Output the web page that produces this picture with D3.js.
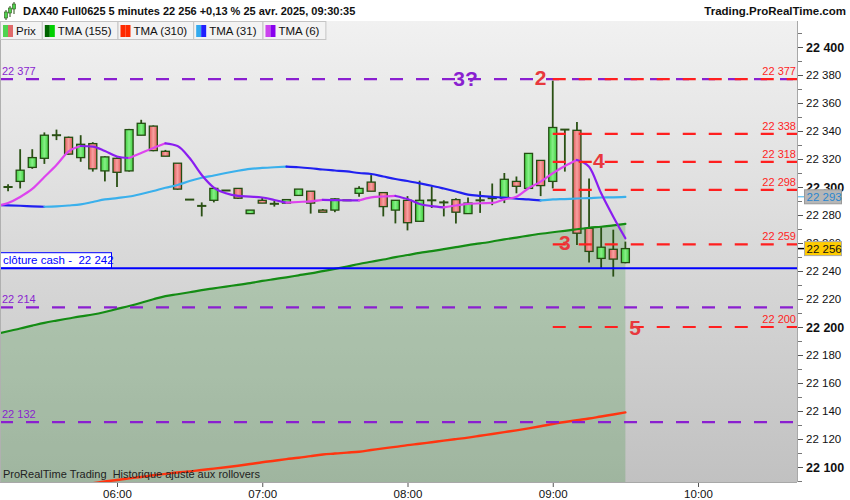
<!DOCTYPE html>
<html><head><meta charset="utf-8">
<script src="https://cdn.jsdelivr.net/npm/d3@7"></script>
<style>body{margin:0;background:#fff}svg{display:block;font-family:"Liberation Sans",Arial,sans-serif}</style>
</head><body><svg id="c" width="850" height="500"></svg>
<script>
// ---------- DATA ----------
const candleTimes = ["05:15","05:20","05:25","05:30","05:35","05:40","05:45","05:50","05:55",
 "06:00","06:05","06:10","06:15","06:20","06:25","06:30","06:35","06:40","06:45","06:50","06:55",
 "07:00","07:05","07:10","07:15","07:20","07:25","07:30","07:35","07:40","07:45","07:50","07:55",
 "08:00","08:05","08:10","08:15","08:20","08:25","08:30","08:35","08:40","08:45","08:50","08:55",
 "09:00","09:05","09:10","09:15","09:20","09:25","09:30"];
const openP  = [22300,22304,22314,22320.5,22337,22335.5,22321,22331,22311.5,22320.5,22311.5,22337,22343.5,22325.5,22317,22291,22286.5,22290.5,22297.5,22299,22281,22290.5,22288,22288.5,22294,22297,22283.5,22283.5,22290.5,22295.5,22303.5,22296,22283.5,22290.5,22275.5,22290.5,22289,22291,22281,22290.5,22292,22292,22304,22299,22319,22304,22341,22340.5,22270.5,22249,22255.5,22246];
const highP  = [22302,22327,22327,22339,22341,22336,22337,22332,22322,22321,22341.5,22348,22344,22326.5,22317,22291,22289,22299,22297.5,22299,22283.5,22292.5,22290,22291,22298.5,22297,22284.3,22292,22290.5,22300.5,22308.5,22296,22290.5,22293.5,22304.5,22300.5,22290.5,22292,22292.5,22297,22302.5,22310,22307.5,22324,22319,22376,22341,22346.5,22306,22271.5,22269.5,22261];
const lowP   = [22297,22299,22313,22316.5,22333.5,22323,22318,22311,22304,22300,22311,22337,22325.5,22322,22298,22291,22279,22289,22297.5,22291.5,22281,22288.5,22286,22288,22294,22281,22282,22282,22290.5,22293,22297,22279,22274,22269,22275.5,22285,22279,22274,22281,22281.5,22287,22288.5,22295.5,22299,22293.5,22299,22311,22258.5,22246,22242,22236,22245.5];
const closeP = [22300,22312,22321,22337,22337,22323.5,22330.5,22313,22321.5,22310.5,22341,22345.5,22326,22322,22298.5,22291,22286.5,22299,22297.5,22292,22283.5,22288.5,22288,22291,22298.5,22288.5,22282,22291.5,22290.5,22299,22297,22286,22290.5,22274.5,22290.5,22290.5,22289,22282,22288.5,22290.5,22292,22305.5,22300.5,22324,22301,22342.5,22341,22267,22254,22257,22248.5,22256];

const lineTimes = ["05:10"].concat(candleTimes);
const tma155 = [22195.0,22197.0,22198.9,22201.0,22203.0,22204.6,22206.1,22207.6,22208.9,22210.7,22212.9,22215.0,22217.3,22219.8,22222.1,22223.4,22224.8,22226.3,22227.6,22228.9,22230.1,22231.4,22232.9,22234.2,22235.5,22236.9,22238.3,22239.9,22241.5,22243.2,22245.0,22246.6,22248.2,22249.9,22251.4,22252.9,22254.2,22255.6,22257.0,22258.5,22259.7,22261.1,22262.6,22263.9,22265.3,22266.6,22267.7,22268.7,22269.8,22270.9,22271.6,22272.6,22273.6];
const tma310 = [22079.2,22080.3,22081.4,22082.6,22083.7,22084.9,22086.0,22087.1,22088.4,22089.6,22090.7,22091.9,22092.9,22094.1,22095.1,22096.1,22096.9,22097.9,22098.8,22099.8,22100.9,22102.1,22103.4,22104.5,22105.6,22106.6,22107.8,22108.9,22109.6,22110.3,22110.9,22112.1,22113.3,22114.4,22115.6,22116.6,22117.7,22118.8,22119.9,22121.0,22122.3,22123.6,22124.9,22126.2,22127.6,22129.1,22130.7,22132.1,22133.4,22134.6,22136.1,22137.5,22139.0];
const tma31 = [22287.1,22286.9,22286.6,22286.2,22285.9,22286.2,22286.8,22287.6,22289.3,22291.1,22292.1,22293.2,22295.0,22297.1,22299.5,22301.4,22304.3,22306.6,22308.2,22310.0,22311.6,22312.9,22313.6,22314.1,22314.5,22314.1,22313.4,22312.5,22311.8,22311.1,22310.0,22309.3,22307.5,22305.7,22304.3,22302.6,22300.9,22298.9,22296.8,22294.6,22293.6,22292.9,22292.4,22291.6,22291.1,22290.4,22291.1,22291.4,22291.8,22292.1,22292.5,22292.6,22292.9];
const tma6 = [22286.4,22288.6,22292.9,22298.6,22307.1,22315.7,22325.4,22329.3,22328.9,22325.7,22321.8,22320.7,22324.3,22327.9,22331.2,22329.3,22320.7,22308.6,22299.6,22295.5,22293.6,22293.1,22292.5,22290.7,22288.8,22289.3,22289.8,22290.8,22290.6,22290.5,22290.4,22292.6,22293.2,22293.6,22291.4,22287.9,22286.4,22285.5,22286.8,22287.9,22288.4,22288.6,22291.2,22293.1,22299.1,22303.8,22309.8,22315.0,22319.3,22314.5,22295.5,22278.8,22263.4];

const purpleLevels = [22377, 22214, 22132];
const redLevels = [22377, 22338, 22318, 22298, 22259, 22200];
const redLevelsStart = "09:00";
const cashClose = 22242;
const waveLabels = [
  {text:"3?", time:"08:24", price:22377.5, kind:"purple"},
  {text:"2",  time:"08:55", price:22378, kind:"red"},
  {text:"4",  time:"09:19", price:22319, kind:"red"},
  {text:"3",  time:"09:05", price:22260.5, kind:"red"},
  {text:"5",  time:"09:34", price:22199.5, kind:"red"}
];
const xTicks = ["06:00","07:00","08:00","09:00","10:00"];
const yLabelTicks = [22100,22120,22140,22160,22180,22200,22220,22240,22260,22280,22300,22320,22340,22360,22380,22400];
const yMinorTicks = [22090,22110,22130,22150,22170,22190,22210,22230,22250,22270,22290,22310,22330,22350,22370,22390,22410];
const lastTma31 = 22293, lastPrice = 22256;
const legendItems = [
  {label:"Prix", c:["#4fd34f","#e06a6a"]},
  {label:"TMA (155)", c:["#006400","#00d000"]},
  {label:"TMA (310)", c:["#ff2a00","#ff2a00"]},
  {label:"TMA (31)", c:["#33aaee","#2020ff"]},
  {label:"TMA (6)", c:["#cc44ee","#8800ee"]}
];
const title = "DAX40 Full0625 5 minutes 22 256 +0,13 % 25 avr. 2025, 09:30:35";
const site = "Trading.ProRealTime.com";
const footer = "ProRealTime Trading  Historique ajusté aux rollovers";

// ---------- LAYOUT ----------
const PL=0, PR=797, PT=21, PB=482;
const toMin = s => { const [h,m]=s.split(":").map(Number); return h*60+m; };
const x = d3.scaleLinear().domain([toMin("06:00"), toMin("10:00")]).range([117, 698]);
const y = d3.scaleLinear().domain([22100, 22400]).range([467, 47]);
const fmt = v => d3.format(",")(v).replace(/,/g," ");
const PURPLE="#8a1fd0", RED="#ff1f1f";

const svg = d3.select("#c");
const defs = svg.append("defs");
const bg = defs.append("linearGradient").attr("id","bg").attr("x1",0).attr("y1",0).attr("x2",0).attr("y2",1);
bg.append("stop").attr("offset","0%").attr("stop-color","#f1f1f1");
bg.append("stop").attr("offset","100%").attr("stop-color","#c1c1c1");
function hgrad(id, edge, mid){
  const g = defs.append("linearGradient").attr("id",id).attr("x1",0).attr("y1",0).attr("x2",1).attr("y2",0);
  g.append("stop").attr("offset","0%").attr("stop-color",edge);
  g.append("stop").attr("offset","50%").attr("stop-color",mid);
  g.append("stop").attr("offset","100%").attr("stop-color",edge);
}
hgrad("gUp","#3fcf3f","#86f086");
hgrad("gDn","#e25c5c","#f7a0a0");
defs.append("clipPath").attr("id","clip").append("rect").attr("x",PL).attr("y",PT).attr("width",PR-PL).attr("height",PB-PT);

svg.append("rect").attr("width",850).attr("height",500).attr("fill","#fff");
svg.append("rect").attr("x",PL).attr("y",PT).attr("width",PR-PL).attr("height",PB-PT).attr("fill","url(#bg)");

const plot = svg.append("g").attr("clip-path","url(#clip)");
const lineData = lineTimes.map((t,i)=>({t:toMin(t), i}));

// TMA155 area fill
plot.append("path").datum(lineData)
  .attr("d", d3.area().x(d=>x(d.t)).y0(PB).y1(d=>y(tma155[d.i])))
  .attr("fill","rgb(70,150,70)").attr("fill-opacity",0.27);

// candles
const cg = plot.append("g");
candleTimes.forEach((t,i)=>{
  const cx = x(toMin(t));
  const o=openP[i], c=closeP[i], h=highP[i], l=lowP[i];
  cg.append("line").attr("x1",cx).attr("x2",cx).attr("y1",y(h)).attr("y2",y(l))
    .attr("stroke","#2a5014").attr("stroke-width",1.8);
  if (o===c) {
    cg.append("line").attr("x1",cx-4.6).attr("x2",cx+4.6).attr("y1",y(o)).attr("y2",y(o))
      .attr("stroke","#2a5014").attr("stroke-width",2);
  } else {
    const top=y(Math.max(o,c)), bot=y(Math.min(o,c));
    cg.append("rect").attr("x",cx-4).attr("y",top).attr("width",8).attr("height",Math.max(1,bot-top))
      .attr("fill", c>o ? "url(#gUp)" : "url(#gDn)").attr("stroke","#244d12").attr("stroke-width",1.3);
  }
});

// lines with up/down colours
function colouredLine(vals, upC, dnC, w){
  let run=[0], dir=null;
  const runs=[];
  for(let i=1;i<vals.length;i++){
    const d = vals[i]>=vals[i-1] ? "up":"dn";
    if(dir===null) dir=d;
    if(d!==dir){ runs.push({dir, idx:run}); run=[i-1]; dir=d; }
    run.push(i);
  }
  runs.push({dir, idx:run});
  const ln = d3.line().x(i=>x(lineData[i].t)).y(i=>y(vals[i])).curve(d3.curveMonotoneX);
  runs.forEach(r=>{
    plot.append("path").attr("d", ln(r.idx)).attr("fill","none")
      .attr("stroke", r.dir==="up"?upC:dnC).attr("stroke-width",w).attr("stroke-linecap","round");
  });
}
colouredLine(tma310, "#ff3510", "#ff3510", 2.4);
colouredLine(tma155, "#148c14", "#00c800", 2.2);
colouredLine(tma31, "#3ab0ec", "#2020f0", 2.2);
colouredLine(tma6, "#dd44ee", "#8a1ef0", 2.2);

// horizontal levels
purpleLevels.forEach(v=>{
  plot.append("line").attr("x1",PL).attr("x2",PR).attr("y1",y(v)).attr("y2",y(v))
    .attr("stroke",PURPLE).attr("stroke-width",2.2).attr("stroke-dasharray","13,13");
  plot.append("text").attr("x",2).attr("y",y(v)-4).attr("font-size",11).attr("fill",PURPLE).text(fmt(v));
});
const rx0 = x(toMin(redLevelsStart));
redLevels.forEach(v=>{
  plot.append("line").attr("x1",rx0).attr("x2",PR).attr("y1",y(v)).attr("y2",y(v))
    .attr("stroke",RED).attr("stroke-width",2.2).attr("stroke-dasharray","13,13");
  plot.append("text").attr("x",PR-1).attr("y",y(v)-4).attr("font-size",11).attr("fill",RED)
    .attr("text-anchor","end").text(fmt(v));
});

// cash close
plot.append("line").attr("x1",PL).attr("x2",PR).attr("y1",y(cashClose)).attr("y2",y(cashClose))
  .attr("stroke","#0000ff").attr("stroke-width",2);
plot.append("rect").attr("x",0.5).attr("y",y(cashClose)-15.5).attr("width",111).attr("height",15)
  .attr("fill","#fff").attr("stroke","#0000ff").attr("stroke-width",1);
plot.append("text").attr("x",3).attr("y",y(cashClose)-4).attr("font-size",11.5).attr("fill","#0000ff")
  .style("white-space","pre").text("clôture cash -  " + fmt(cashClose));

// wave labels
waveLabels.forEach(w=>{
  plot.append("text").attr("x",x(toMin(w.time))).attr("y",y(w.price)).attr("dy","0.36em")
    .attr("text-anchor","middle").attr("font-size",21).attr("font-weight","bold")
    .attr("fill", w.kind==="red" ? "#e8383d" : PURPLE).text(w.text);
});

// footer
plot.append("text").attr("x",3).attr("y",478).attr("font-size",11).attr("fill","#222")
  .style("white-space","pre").text(footer);

// borders
svg.append("line").attr("x1",PR+0.5).attr("x2",PR+0.5).attr("y1",PT).attr("y2",PB).attr("stroke","#a8a8a8");
svg.append("line").attr("x1",0).attr("x2",PR).attr("y1",PB+0.5).attr("y2",PB+0.5).attr("stroke","#a8a8a8");
svg.append("line").attr("x1",0.5).attr("x2",0.5).attr("y1",PT).attr("y2",PB).attr("stroke","#b0b0b0");

// y axis
const yAx = svg.append("g").attr("transform",`translate(${PR+1},0)`)
  .call(d3.axisRight(y).tickValues(yLabelTicks).tickSize(5).tickPadding(3).tickFormat(fmt));
yAx.select(".domain").remove();
yAx.selectAll("line").attr("stroke","#555");
yAx.selectAll("text").attr("font-family","Liberation Sans, Arial, sans-serif")
  .attr("fill","#111")
  .attr("font-size", d=> d%100===0 ? 12.5 : 11.5)
  .attr("font-weight", d=> d%100===0 ? "bold" : "normal");
const yMin = svg.append("g").attr("transform",`translate(${PR+1},0)`)
  .call(d3.axisRight(y).tickValues(yMinorTicks.filter(v=>y(v)>PT+5)).tickSize(4).tickFormat(""));
yMin.select(".domain").remove();
yMin.selectAll("line").attr("stroke","#777");

// price tags
const t31 = y(lastTma31);
svg.append("line").attr("x1",PR+1).attr("x2",PR+7).attr("y1",t31).attr("y2",t31).attr("stroke","#3ab0ec");
svg.append("rect").attr("x",804.5).attr("y",t31-7).attr("width",37).attr("height",14)
  .attr("fill","#b6b6b6").attr("stroke","#999");
svg.append("text").attr("x",806.5).attr("y",t31).attr("dy","0.36em").attr("font-size",11.5)
  .attr("fill","#2a86cf").text(fmt(lastTma31));
const tp = y(lastPrice);
svg.append("line").attr("x1",PR+1).attr("x2",PR+7).attr("y1",tp).attr("y2",tp).attr("stroke","#000").attr("stroke-width",1.5);
svg.append("rect").attr("x",804.5).attr("y",tp-7).attr("width",37).attr("height",14)
  .attr("fill","#ffcc00").attr("stroke","#aaa");
svg.append("text").attr("x",806.5).attr("y",tp).attr("dy","0.36em").attr("font-size",11.5)
  .attr("fill","#111").text(fmt(lastPrice));

// x axis
const xAx = svg.append("g").attr("transform",`translate(0,${PB+1})`)
  .call(d3.axisBottom(x).tickValues(xTicks.map(toMin)).tickSize(4).tickPadding(3).tickFormat((d,i)=>xTicks[i]));
xAx.select(".domain").remove();
xAx.selectAll("line").attr("stroke","#555");
xAx.selectAll("text").attr("font-family","Liberation Sans, Arial, sans-serif").attr("font-size",11.5).attr("fill","#111");

// header
svg.append("rect").attr("x",0).attr("y",0).attr("width",850).attr("height",20).attr("fill","#fff");
const ic = svg.append("g");
[[6,10,14,6],[10,6,12,5],[14,2,9,5]].forEach(([cx,w0,w1,h])=>{
  ic.append("line").attr("x1",cx).attr("x2",cx).attr("y1",w0).attr("y2",w1+h).attr("stroke","#2a5014").attr("stroke-width",1);
  ic.append("rect").attr("x",cx-1.5).attr("y",w0+2).attr("width",3).attr("height",h).attr("fill","#4fd34f").attr("stroke","#2a5014").attr("stroke-width",0.6);
});
svg.append("text").attr("x",23).attr("y",15).attr("font-size",11).attr("font-weight","bold").attr("fill","#111").text(title);
svg.append("text").attr("x",846).attr("y",15).attr("text-anchor","end").attr("font-size",11.5).attr("font-weight","bold").attr("fill","#111").text(site);

// legend
const lg = svg.append("g");
let lx = 0;
legendItems.forEach(it=>{
  const g = lg.append("g");
  const r = g.append("rect").attr("x",lx+0.5).attr("y",21.5).attr("height",18).attr("fill","#f3f3f3").attr("stroke","#c4c4c4");
  g.append("rect").attr("x",lx+3).attr("y",25).attr("width",5).attr("height",12).attr("fill",it.c[0]);
  g.append("rect").attr("x",lx+8).attr("y",25).attr("width",5).attr("height",12).attr("fill",it.c[1]);
  const tx = g.append("text").attr("x",lx+16).attr("y",35).attr("font-size",11.5).attr("fill","#111").text(it.label);
  const w = 16 + tx.node().getComputedTextLength() + 6;
  r.attr("width", w);
  lx += w;
});
</script></body></html>
